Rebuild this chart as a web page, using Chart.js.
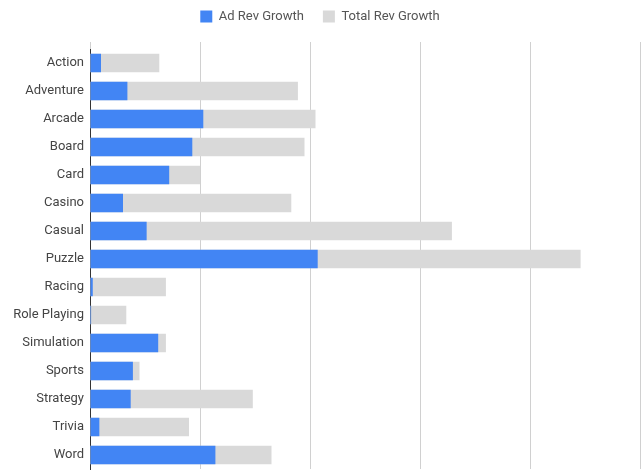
<!DOCTYPE html>
<html lang="en">
<head>
<meta charset="UTF-8" />
<title>Ad Rev Growth vs Total Rev Growth</title>
<script src="https://cdn.jsdelivr.net/npm/chart.js"></script>
<style>
  html, body { margin: 0; padding: 0; background: #fff; }
  #wrap { width: 644px; height: 470px; position: relative; }
</style>
</head>
<body>
<div id="wrap"><canvas id="growthChart"></canvas></div>
<script>
const genres = ["Action", "Adventure", "Arcade", "Board", "Card", "Casino", "Casual", "Puzzle",
  "Racing", "Role Playing", "Simulation", "Sports", "Strategy", "Trivia", "Word"];
const adRevGrowth = [0.10, 0.34, 1.03, 0.93, 0.72, 0.30, 0.515, 2.07, 0.025, 0.01, 0.62, 0.39, 0.37, 0.085, 1.14];
const totalRevGrowth = [0.63, 1.89, 2.05, 1.95, 1.00, 1.83, 3.29, 4.46, 0.69, 0.33, 0.69, 0.45, 1.48, 0.90, 1.65];

const ctx = document.getElementById("growthChart").getContext("2d");

new Chart(ctx, {
  type: "bar",
  data: {
    labels: genres,
    datasets: [
      {
        label: "Ad Rev Growth",
        data: adRevGrowth,
        backgroundColor: "#4285f4",
        categoryPercentage: 0.66,
        barPercentage: 1,
      },
      {
        label: "Total Rev Growth",
        data: totalRevGrowth,
        backgroundColor: "#d9d9d9",
        categoryPercentage: 0.66,
        barPercentage: 1,
      },
    ],
  },
  options: {
    indexAxis: "y",
    responsive: true,
    maintainAspectRatio: false,
    animation: false,
    grouped: false,
    layout: { padding: { left: 0, right: 4, top: -9, bottom: 1 } },
    scales: {
      x: {
        position: "top",
        min: 0,
        max: 5,
        // leave room so the grid lines start a little above the first bar
        afterFit: (s) => { s.height = 16; },
        ticks: { display: false, stepSize: 1 },
        grid: { color: "#d0d0d0", drawTicks: true, tickLength: 7, tickColor: "#d0d0d0" },
        border: { display: false },
      },
      y: {
        afterFit: (s) => { s.width = 90; s.paddingTop = 0; s.paddingBottom = 0; },
        ticks: {
          color: "#444",
          padding: 6,
          font: { family: "Roboto", size: 13 },
        },
        grid: { display: false, drawTicks: false },
        border: { display: true, color: "#333", width: 1 },
      },
    },
    plugins: {
      legend: {
        position: "top",
        labels: {
          boxWidth: 12,
          boxHeight: 12,
          padding: 19,
          color: "#555",
          font: { family: "Roboto", size: 13 },
        },
      },
      tooltip: { enabled: false },
    },
  },
});
</script>
</body>
</html>
